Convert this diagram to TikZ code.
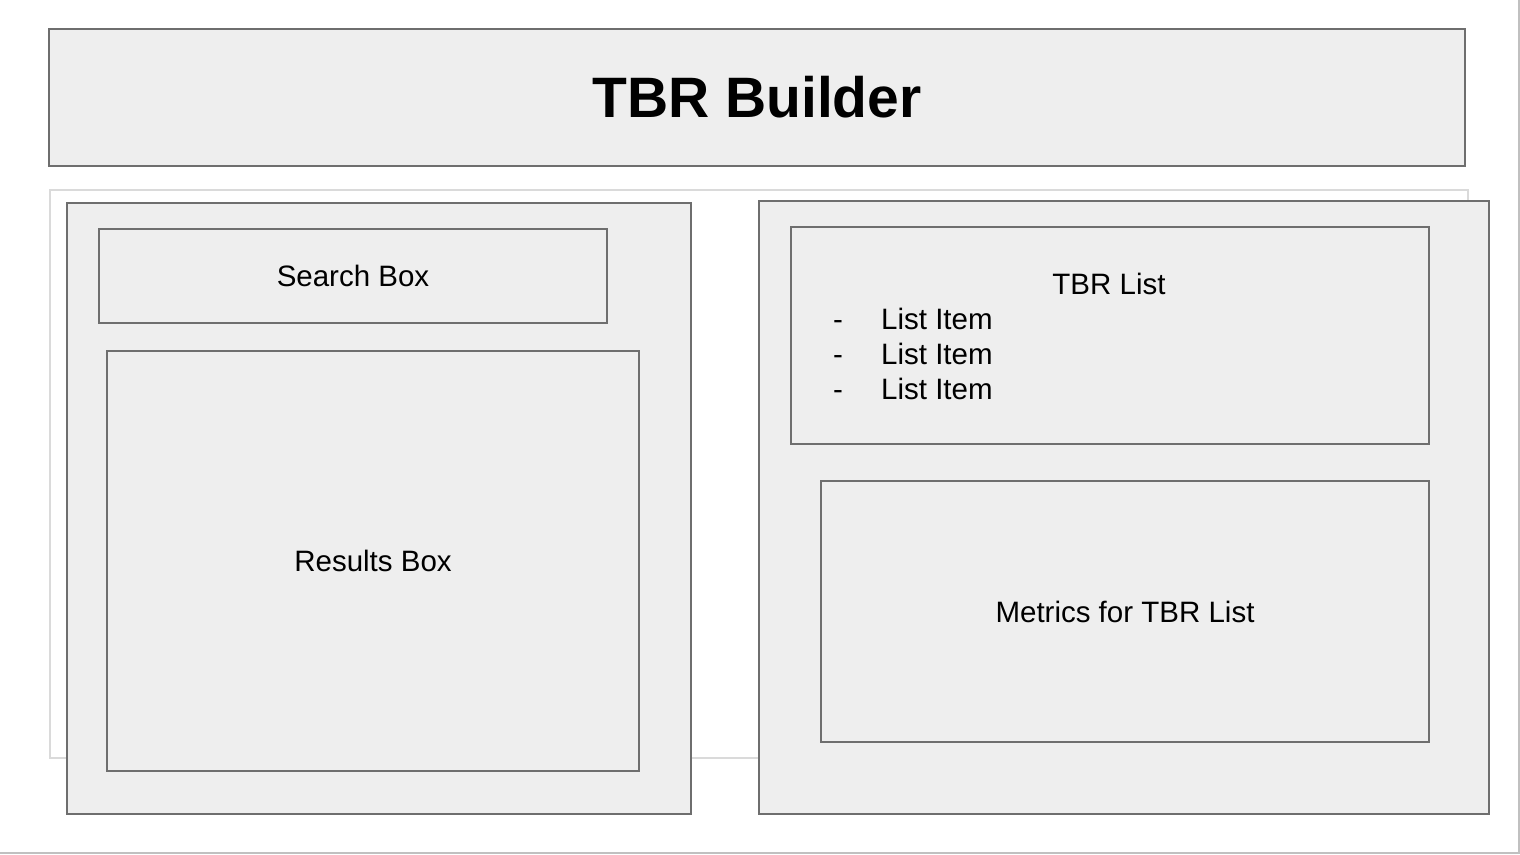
\documentclass[tikz,border=0pt]{standalone}
\usepackage{fontspec}
\setmainfont{Liberation Sans}
\definecolor{boxfill}{HTML}{EEEEEE}
\definecolor{boxline}{HTML}{6E6E6E}
\definecolor{faint}{HTML}{DADADA}
\definecolor{edgegray}{HTML}{C0C0C0}
\begin{document}
\begin{tikzpicture}[x=1pt,y=-1pt,
  box/.style={draw=boxline, fill=boxfill, line width=2pt, inner sep=0pt, anchor=north west},
  lbl/.style={font=\fontsize{29.5}{35}\selectfont, inner sep=0pt},
  titletext/.style={font=\fontsize{57}{60}\selectfont\bfseries}]
\useasboundingbox (0,0) rectangle (1520,854);
\fill[white] (0,0) rectangle (1520,854);
\coordinate (ctop) at (1519,0);
\coordinate (ccorner) at (1519,853);
\coordinate (cleft) at (0,853);
\draw[edgegray, line width=2pt] (ctop) -- (ccorner) -- (cleft);
\node[draw=faint, line width=2pt, inner sep=0pt, anchor=north west, minimum width=1418pt, minimum height=568pt] (area) at (49,189) {};
\node[box, minimum width=1416pt, minimum height=137pt, titletext] (title) at (48,28) {TBR Builder};
\node[box, minimum width=624pt, minimum height=611pt] (left) at (66,202) {};
\node[box, minimum width=508pt, minimum height=94pt, lbl] (search) at (98,228) {Search Box};
\node[box, minimum width=532pt, minimum height=420pt, lbl] (results) at (106,350) {Results Box};
\node[box, minimum width=730pt, minimum height=613pt] (right) at (758,200) {};
\node[box, minimum width=638pt, minimum height=217pt] (tbrlist) at (790,226) {};
\node[lbl] (tbrlabel) at (1109,284) {TBR List};
\node[lbl, anchor=base] (d1) at (838,329) {-};
\node[lbl, anchor=base west] (i1) at (881,329) {List Item};
\node[lbl, anchor=base] (d2) at (838,364) {-};
\node[lbl, anchor=base west] (i2) at (881,364) {List Item};
\node[lbl, anchor=base] (d3) at (838,399) {-};
\node[lbl, anchor=base west] (i3) at (881,399) {List Item};
\node[box, minimum width=608pt, minimum height=261pt, lbl] (metrics) at (820,480) {Metrics for TBR List};
\end{tikzpicture}
\end{document}
